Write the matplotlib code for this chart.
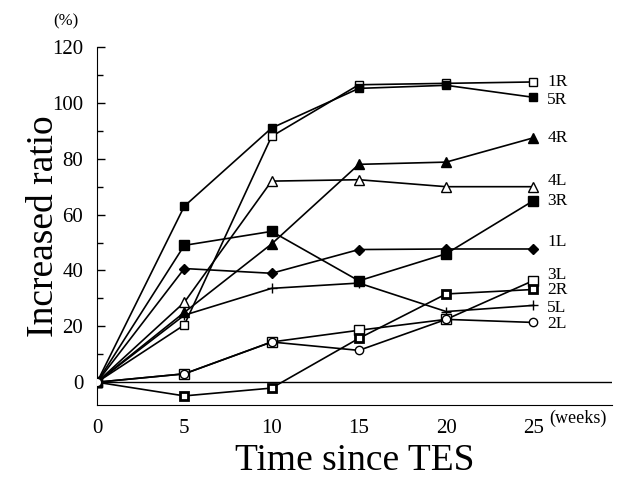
import matplotlib
matplotlib.use('Agg')
import matplotlib.pyplot as plt
from matplotlib.ticker import MultipleLocator

plt.rcParams['font.family'] = ['Liberation Serif', 'DejaVu Serif']

weeks = [0, 5, 10, 15, 20, 25]

# increased ratio (%) per muscle
r1 = [0, 20.5, 88, 106.5, 107, 107.5]
r5 = [0, 63, 91, 105.2, 106.3, 102]
r4 = [0, 25, 49.5, 78, 78.8, 87.5]
l4 = [0, 28.6, 72, 72.5, 70, 70]
r3 = [0, 49, 54, 36.3, 46, 65]
l1 = [0, 40.7, 39, 47.5, 47.7, 47.7]
l3 = [0, 3, 14.4, 18.6, 22.5, 36.4]
r2 = [0, -4.9, -2.1, 15.7, 31.6, 33.2]
l5 = [0, 24, 33.6, 35.5, 25.3, 27.5]
l2 = [0, 3, 14.4, 11.4, 22.5, 21.4]

names = ['1R', '5R', '4R', '4L', '3R', '1L', '3L', '2R', '5L', '2L']
series = [r1, r5, r4, l4, r3, l1, l3, r2, l5, l2]

# marker styles: (marker, face, size, edge width)
styles = [('s', 'white', 6, 1.0), ('s', 'black', 6, 1.0), ('^', 'black', 7, 1.0),
          ('^', 'white', 7, 1.0), ('s', 'black', 7, 1.0), ('D', 'black', 5, 1.0),
          ('s', 'white', 7, 1.0), ('s', 'white', 5.5, 2.0), ('+', 'black', 7, 1.0),
          ('o', 'white', 6, 1.0)]
label_dy = [0, -1, 0, 2, 0, 2.5, 2.0, -0.3, -0.8, -0.7]

fig = plt.figure(figsize=(6.28, 4.8), dpi=100)
ax = fig.add_axes([0.1545, 0.156, 0.82, 0.746])

ax.axhline(0, color='black', lw=1.0, zorder=1)
for name, ys, st, dy in zip(names, series, styles, label_dy):
    m, fc, ms, mew = st
    ax.plot(weeks, ys, color='black', lw=1.2, marker=m, mfc=fc, mec='black',
            ms=ms, mew=mew, zorder=3)
    ax.text(weeks[-1] + 0.8, ys[-1] + dy, name, fontsize=12.5, va='center', ha='left')

ax.set_xlim(0, 29.5)
ax.set_ylim(-8.2, 120)
ax.set_xticks(weeks)
ax.set_yticks(range(0, 121, 20))
ax.yaxis.set_minor_locator(MultipleLocator(10))
ax.tick_params(axis='y', which='major', direction='in', length=6, width=1, labelsize=15, pad=10)
ax.tick_params(axis='y', which='minor', direction='in', length=4, width=1)
ax.tick_params(axis='x', length=0, labelsize=15, pad=10)
ax.spines['top'].set_visible(False)
ax.spines['right'].set_visible(False)
ax.spines['left'].set_bounds(-8.2, 120)

ax.set_xlabel('Time since TES', fontsize=27, labelpad=4)
ax.set_ylabel('Increased ratio', fontsize=27)
ax.yaxis.set_label_coords(-0.07, 0.5)
ax.text(-0.06, 1.06, '(%)', transform=ax.transAxes, fontsize=12, ha='center')
ax.text(25.9, -12.8, '(weeks)', fontsize=13, ha='left', va='center')

fig.savefig('out.png', dpi=100)
